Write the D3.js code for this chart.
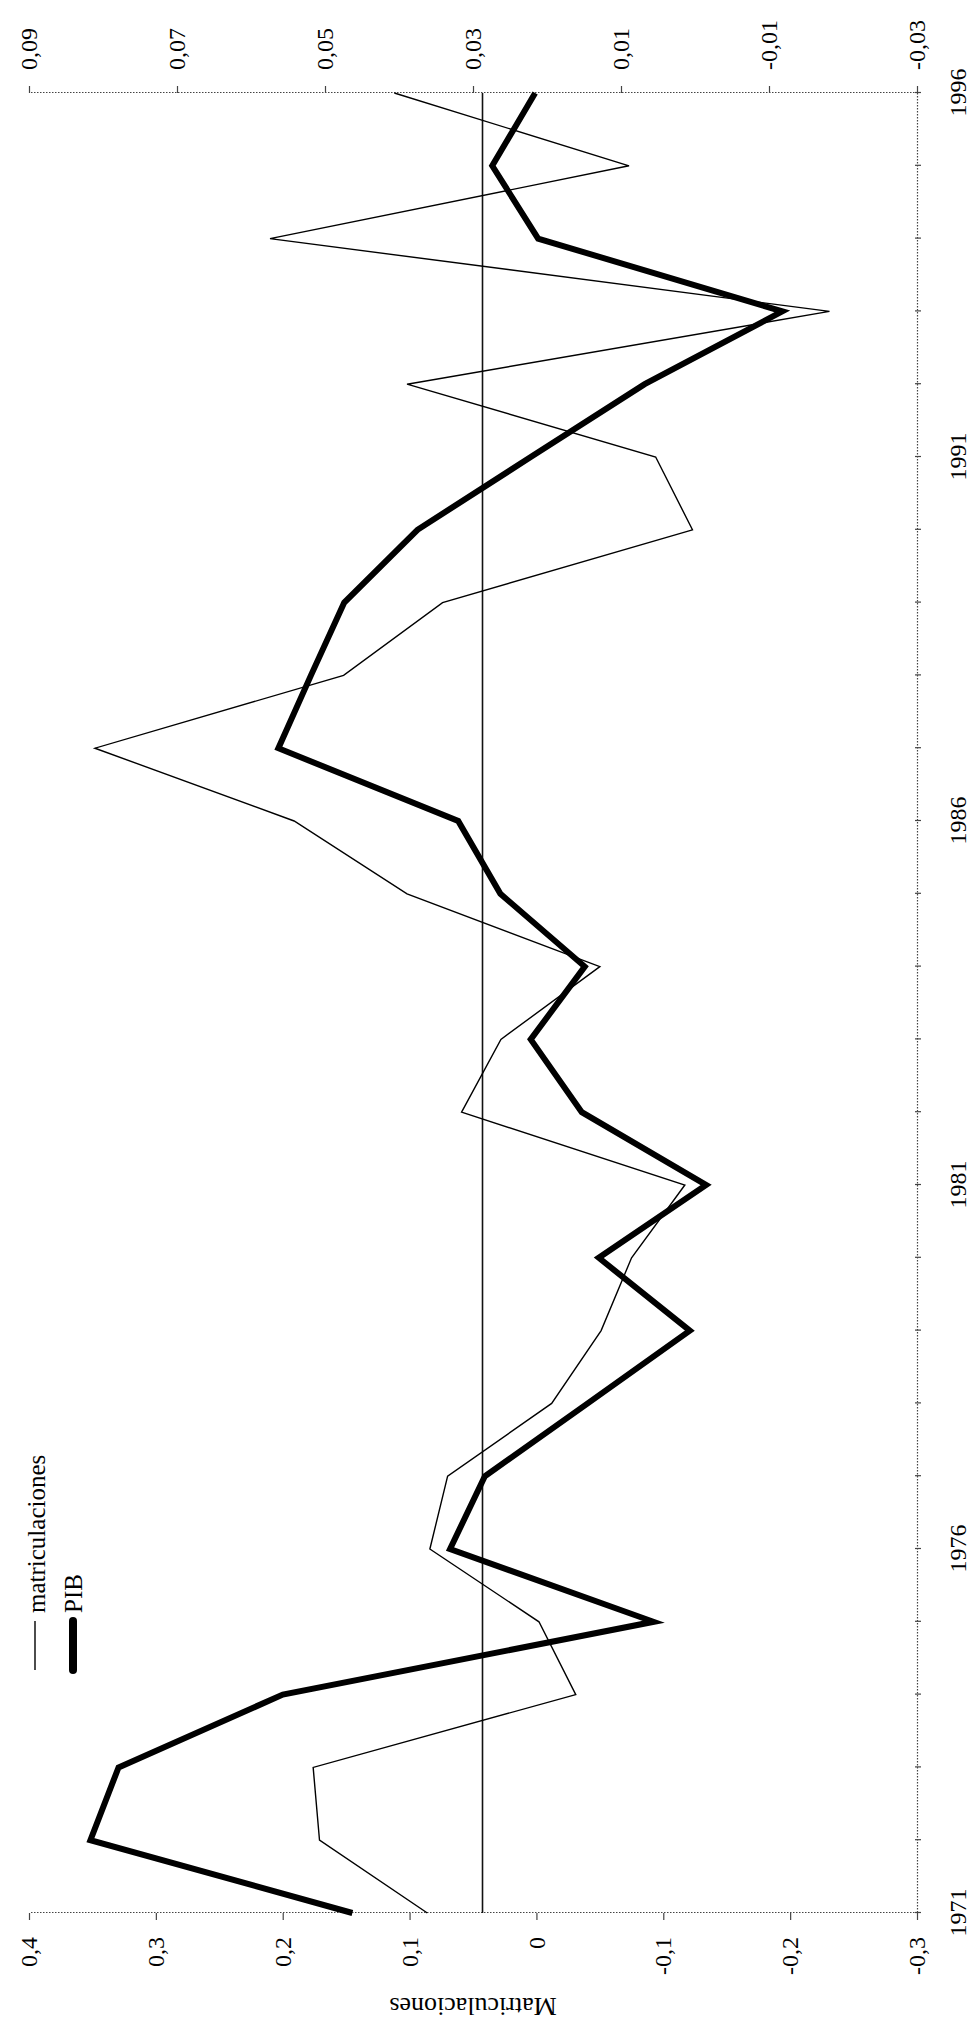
<!DOCTYPE html>
<html>
<head>
<meta charset="utf-8">
<script src="https://cdn.jsdelivr.net/npm/d3@7/dist/d3.min.js"></script>
<style>
body { margin: 0; background: #fff; }
svg { display: block; background: #fff; font-family: "Liberation Serif", "Times New Roman", serif; }
</style>
</head>
<body>
<svg id="chart" width="979" height="2023"></svg>
<script>

const years = [1971, 1972, 1973, 1974, 1975, 1976, 1977, 1978, 1979, 1980, 1981, 1982, 1983,
               1984, 1985, 1986, 1987, 1988, 1989, 1990, 1991, 1992, 1993, 1994, 1995, 1996];

const matriculaciones = [0.086, 0.171, 0.176, -0.031, -0.002, 0.084, 0.070, -0.012, -0.051, -0.075, -0.117, 0.059, 0.028,
                         -0.050, 0.102, 0.191, 0.348, 0.152, 0.074, -0.123, -0.094, 0.102, -0.231, 0.210, -0.073, 0.112];

const pib = [0.0463, 0.0817, 0.0779, 0.0557, 0.0056, 0.0331, 0.0284, 0.0145, 0.0007, 0.0130, -0.0015, 0.0153, 0.0222,
             0.0149, 0.0263, 0.0320, 0.0563, 0.0519, 0.0474, 0.0375, 0.0222, 0.0068, -0.0118, 0.0212, 0.0274, 0.0216];

const yearLabels = [1971, 1976, 1981, 1986, 1991, 1996];
const matricTicks = [0.4, 0.3, 0.2, 0.1, 0, -0.1, -0.2, -0.3];
const pibTicks = [0.09, 0.07, 0.05, 0.03, 0.01, -0.01, -0.03];
const seriesNames = ["matriculaciones", "PIB"];
const axisTitle = "Matriculaciones";

const vis = {

    // chart is drawn landscape, then turned a quarter to the left
    frame : {
        width : 979,
        height : 2023,
        left : 110,
        right : 1930,
        top : 29,
        bottom : 917
    },

    scales : {

        x : null,
        yMatric : null,
        yPib : null,

        build : function() {
            const f = vis.frame;
            this.x = d3.scaleLinear().domain([1971, 1996]).range([f.left, f.right]);
            this.yMatric = d3.scaleLinear().domain([-0.3, 0.4]).range([f.bottom, f.top]);
            this.yPib = d3.scaleLinear().domain([-0.03, 0.09]).range([f.bottom, f.top]);
        }

    },

    comma : function(d) {
        return d === 0 ? "0" : String(d).replace(".", ",");
    },

    axes : {

        style : function(sel) {
            sel.attr('font-family', null).attr('font-size', 24);
            sel.select('.domain')
               .attr('stroke', '#444')
               .attr('stroke-width', 1.2)
               .attr('stroke-dasharray', '1.5,1.5');
            sel.selectAll('.tick line').attr('stroke', '#444').attr('stroke-width', 1.2);
            sel.selectAll('.tick text').attr('fill', '#000');
        },

        draw : function(g) {
            const f = vis.frame, s = vis.scales;

            g.append('g')
             .attr('transform', `translate(${f.left},0)`)
             .call(d3.axisLeft(s.yMatric).tickValues(matricTicks).tickSize(7).tickSizeOuter(0)
                   .tickPadding(17).tickFormat(vis.comma))
             .call(this.style);

            g.append('g')
             .attr('transform', `translate(${f.right},0)`)
             .call(d3.axisRight(s.yPib).tickValues(pibTicks).tickSize(7).tickSizeOuter(0)
                   .tickPadding(16).tickFormat(vis.comma))
             .call(this.style);

            const xAxis = g.append('g')
             .attr('transform', `translate(0,${f.bottom})`)
             .call(d3.axisBottom(s.x).tickValues(years).tickSize(4).tickSizeOuter(0)
                   .tickPadding(28).tickFormat(d => yearLabels.includes(d) ? d : ""))
             .call(this.style);
            xAxis.selectAll('.tick line').attr('y1', -2);

            g.append('text')
             .attr('transform', `translate(25,${(f.top + f.bottom) / 2}) rotate(-90)`)
             .attr('text-anchor', 'middle')
             .attr('font-size', 26)
             .text(axisTitle);
        }

    },

    lines : {

        draw : function(g) {
            const s = vis.scales;

            // mean of PIB
            const m = d3.mean(pib);
            g.append('line')
             .attr('x1', s.x(years[0]))
             .attr('x2', s.x(years[years.length - 1]))
             .attr('y1', s.yPib(m))
             .attr('y2', s.yPib(m))
             .attr('stroke', '#111')
             .attr('stroke-width', 1.6);

            const lineM = d3.line().x((d, i) => s.x(years[i])).y(d => s.yMatric(d));
            const lineP = d3.line().x((d, i) => s.x(years[i])).y(d => s.yPib(d));

            g.append('path')
             .datum(matriculaciones)
             .attr('d', lineM)
             .attr('fill', 'none')
             .attr('stroke', '#000')
             .attr('stroke-width', 1.4)
             .attr('stroke-linejoin', 'miter');

            g.append('path')
             .datum(pib)
             .attr('d', lineP)
             .attr('fill', 'none')
             .attr('stroke', '#000')
             .attr('stroke-width', 6)
             .attr('stroke-linejoin', 'miter');
        }

    },

    legend : {

        draw : function(g) {
            const rows = [
                { name : seriesNames[0], v : 35, base : 45, w : 1.4, cap : 'butt' },
                { name : seriesNames[1], v : 73, base : 82, w : 8, cap : 'round' }
            ];

            rows.forEach(r => {
                g.append('line')
                 .attr('x1', 353)
                 .attr('x2', 402)
                 .attr('y1', r.v)
                 .attr('y2', r.v)
                 .attr('stroke', '#000')
                 .attr('stroke-width', r.w)
                 .attr('stroke-linecap', r.cap);

                g.append('text')
                 .attr('x', 410)
                 .attr('y', r.base)
                 .attr('font-size', 25)
                 .text(r.name);
            });
        }

    },

    ctrl : {

        init : function() {
            const f = vis.frame;
            const g = d3.select('svg#chart')
                        .append('g')
                        .attr('transform', `translate(0,${f.height}) rotate(-90)`);

            vis.scales.build();
            vis.axes.draw(g);
            vis.lines.draw(g);
            vis.legend.draw(g);
        }

    }

};

vis.ctrl.init();
</script>
</body>
</html>
